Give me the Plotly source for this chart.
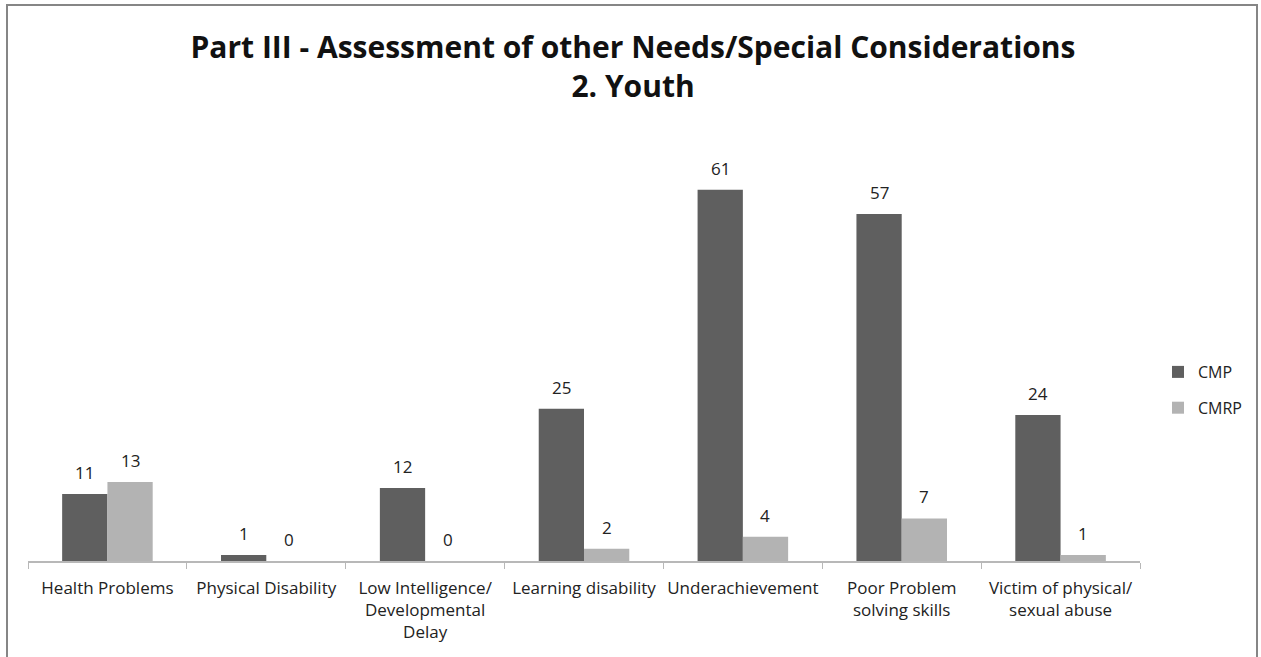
import plotly.graph_objects as go

categories = [
    "Health Problems",
    "Physical Disability",
    "Low Intelligence/<br>Developmental<br>Delay",
    "Learning disability",
    "Underachievement",
    "Poor Problem<br>solving skills",
    "Victim of physical/<br>sexual abuse",
]
cmp_values = [11, 1, 12, 25, 61, 57, 24]
cmrp_values = [13, 0, 0, 2, 4, 7, 1]

W, H = 1261, 657
# plot area in pixels
PL, PR, PT, PB = 28, 1140, 135, 561
BARGAP = 0.43

font_family = "Open Sans, Liberation Sans, sans-serif"

fig = go.Figure()
fig.add_trace(go.Bar(
    x=categories, y=cmp_values, name="CMP",
    marker=dict(color="#5f5f5f", line=dict(width=0)),
    legendgroup="a",
))
fig.add_trace(go.Bar(
    x=categories, y=cmrp_values, name="CMRP",
    marker=dict(color="#b3b3b3", line=dict(width=0)),
    legendgroup="b",
))

pw = PR - PL
ph = PB - PT


def px_x(x):
    return (x - PL) / pw


def px_y(y):
    return (PB - y) / ph


# value labels above each bar, shifted to the bar's slot within the group
slot = pw / len(categories) * (1 - BARGAP) / 2
annotations = []
for series, shift in ((cmp_values, -slot / 2), (cmrp_values, slot / 2)):
    for cat, val in zip(categories, series):
        annotations.append(dict(
            x=cat, y=val, xref="x", yref="y", text=str(val),
            showarrow=False, xanchor="center", yanchor="bottom",
            xshift=shift, yshift=8,
            font=dict(size=17, color="#222222", family=font_family),
        ))

fig.update_layout(
    width=W, height=H,
    margin=dict(l=PL, r=W - PR, t=PT, b=H - PB, autoexpand=False),
    paper_bgcolor="white", plot_bgcolor="white",
    barmode="group", bargap=BARGAP, bargroupgap=0,
    title=dict(
        text="<b>Part III - Assessment of other Needs/Special Considerations<br>2. Youth</b>",
        x=0.502, xanchor="center", y=0.912, yanchor="top",
        font=dict(size=30, color="#111111", family=font_family),
    ),
    xaxis=dict(
        showline=True, linecolor="#b8b8b8", linewidth=1.5,
        ticks="outside", tickcolor="#b8b8b8", ticklen=6,
        tickson="boundaries", showgrid=False, tickangle=0,
        tickfont=dict(size=17, color="#222222", family=font_family),
        ticklabelstandoff=11,
    ),
    yaxis=dict(range=[0, 70], visible=False, showgrid=False),
    legend=dict(
        x=px_x(1158), xanchor="left", y=px_y(355), yanchor="top",
        font=dict(size=16, color="#222222", family=font_family),
        tracegroupgap=12, itemwidth=30,
    ),
    annotations=annotations,
    shapes=[
        dict(type="rect", xref="paper", yref="paper",
             x0=px_x(7), x1=px_x(1257), y0=px_y(680), y1=px_y(5),
             line=dict(color="#868686", width=2), fillcolor="rgba(0,0,0,0)",
             layer="below"),
    ],
)

fig.write_html("out.html")
